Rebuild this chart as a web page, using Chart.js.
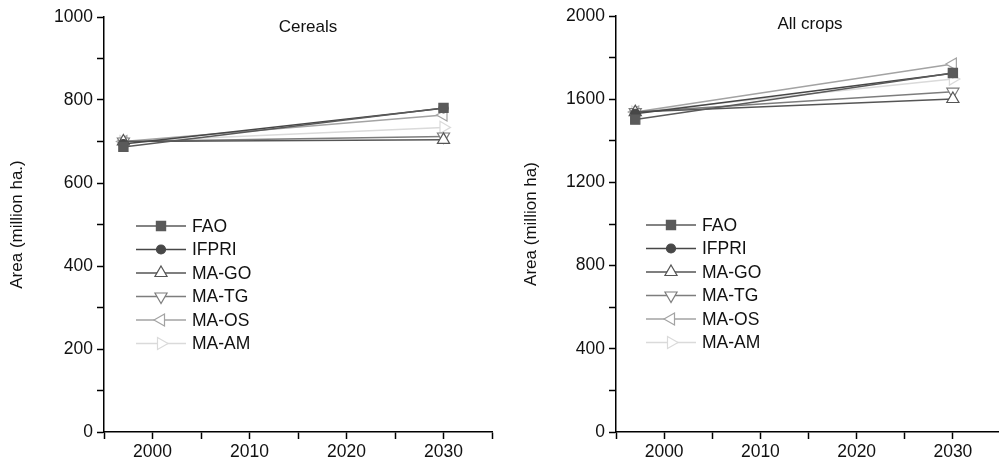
<!DOCTYPE html>
<html>
<head>
<meta charset="utf-8">
<script src="https://cdn.jsdelivr.net/npm/chart.js@4.4.1/dist/chart.umd.min.js"></script>
<style>
  html, body { margin: 0; padding: 0; background: #fff; width: 999px; height: 472px; overflow: hidden; }
  #left { position: absolute; left: 0; top: 0; }
  #right { position: absolute; left: 500px; top: 0; }
</style>
</head>
<body>
<canvas id="left" width="510" height="472"></canvas>
<canvas id="right" width="520" height="472"></canvas>
<script>
// data
const years = [1997, 2030];
const seriesNames = ['FAO', 'IFPRI', 'MA-GO', 'MA-TG', 'MA-OS', 'MA-AM'];

const cerealsFAO = [687, 781];
const cerealsIFPRI = [694, 780];
const cerealsGO = [700, 704];
const cerealsTG = [700, 712];
const cerealsOS = [700, 764];
const cerealsAM = [700, 734];

const allFAO = [1502, 1726];
const allIFPRI = [1530, 1725];
const allGO = [1538, 1601];
const allTG = [1538, 1636];
const allOS = [1538, 1769];
const allAM = [1538, 1697];

// styles per series
const lineColors = ['#5a5a5a', '#474747', '#555555', '#7d7d7d', '#a3a3a3', '#dadada'];
const fillColors = ['#5a5a5a', '#474747', '#ffffff', '#ffffff', '#ffffff', '#ffffff'];
const markers = ['rect', 'circle', 'triangle', 'triangle', 'triangle', 'triangle'];
const markerRotation = [0, 0, 0, 180, 270, 90];
const markerRadius = [6.5, 4.5, 7, 7, 7, 7];

const FONT = 'Arial, "Liberation Sans", sans-serif';
const TXT = 17.5;

function makeDatasets(seriesValues) {
    return seriesValues.map((vals, i) => ({
        label: seriesNames[i],
        data: years.map((yr, j) => ({ x: yr, y: vals[j] })),
        borderColor: lineColors[i],
        borderWidth: 1.5,
        pointStyle: markers[i],
        pointRotation: markerRotation[i],
        pointRadius: markerRadius[i],
        pointBackgroundColor: fillColors[i],
        pointBorderColor: lineColors[i],
        pointBorderWidth: 1.2,
        tension: 0
    }));
}

// title + legend drawn inside the plot area
const innerLabels = {
    id: 'innerLabels',
    afterDraw(chart, args, opts) {
        const ctx = chart.ctx;
        ctx.save();
        ctx.fillStyle = '#111';
        ctx.font = '17px ' + FONT;
        ctx.textAlign = 'center';
        ctx.textBaseline = 'middle';
        ctx.fillText(opts.title, opts.titleX, opts.titleY);

        ctx.font = TXT + 'px ' + FONT;
        ctx.textAlign = 'left';
        chart.data.datasets.forEach((ds, i) => {
            const y = opts.legendY + i * opts.legendGap;
            ctx.strokeStyle = ds.borderColor;
            ctx.lineWidth = 1.5;
            ctx.beginPath();
            ctx.moveTo(opts.legendX, y);
            ctx.lineTo(opts.legendX + 50, y);
            ctx.stroke();
            ctx.fillStyle = ds.pointBackgroundColor;
            ctx.strokeStyle = ds.pointBorderColor;
            ctx.lineWidth = 1.2;
            Chart.helpers.drawPoint(ctx, {
                pointStyle: ds.pointStyle,
                rotation: ds.pointRotation,
                radius: ds.pointRadius,
                borderWidth: 1.2
            }, opts.legendX + 25, y);
            ctx.fillStyle = '#111';
            ctx.fillText(ds.label, opts.legendX + 56, y + 1);
        });
        ctx.restore();
    }
};

function makeChart(id, seriesValues, cfg) {
    return new Chart(document.getElementById(id), {
        type: 'line',
        data: { datasets: makeDatasets(seriesValues) },
        plugins: [innerLabels],
        options: {
            responsive: false,
            animation: false,
            layout: { padding: { top: cfg.padTop, right: cfg.padRight, left: 0, bottom: 0 } },
            plugins: {
                legend: { display: false },
                tooltip: { enabled: false },
                innerLabels: cfg.labels
            },
            scales: {
                x: {
                    type: 'linear',
                    min: 1995,
                    max: 2035,
                    afterFit(scale) { scale.height = 40; },
                    border: { color: '#000', width: 1.5 },
                    grid: { drawOnChartArea: false, tickLength: 7, tickColor: '#000', tickWidth: 1.5 },
                    ticks: {
                        stepSize: 5,
                        autoSkip: false,
                        maxRotation: 0,
                        padding: 3,
                        color: '#111',
                        font: { family: FONT, size: TXT },
                        callback: v => (v % 10 === 0 ? String(v) : '')
                    }
                },
                y: {
                    min: 0,
                    max: cfg.yMax,
                    afterFit(scale) { scale.width = cfg.yWidth; },
                    border: { color: '#000', width: 1.5 },
                    grid: { drawOnChartArea: false, tickLength: 7, tickColor: '#000', tickWidth: 1.5 },
                    ticks: {
                        stepSize: cfg.yStep,
                        autoSkip: false,
                        padding: 4,
                        color: '#111',
                        font: { family: FONT, size: TXT },
                        callback: v => (v % (cfg.yStep * 2) === 0 ? String(v) : '')
                    },
                    title: {
                        display: true,
                        text: cfg.yTitle,
                        color: '#111',
                        font: { family: FONT, size: 17 },
                        padding: { top: cfg.titlePad, bottom: 0 }
                    }
                }
            }
        }
    });
}

makeChart('left',
    [cerealsFAO, cerealsIFPRI, cerealsGO, cerealsTG, cerealsOS, cerealsAM],
    {
        yMax: 1000, yStep: 100, yWidth: 104, padTop: 17, padRight: 18,
        yTitle: 'Area (million ha.)', titlePad: 7,
        labels: { title: 'Cereals', titleX: 308, titleY: 27, legendX: 136, legendY: 226, legendGap: 23.5 }
    });

makeChart('right',
    [allFAO, allIFPRI, allGO, allTG, allOS, allAM],
    {
        yMax: 2000, yStep: 200, yWidth: 116, padTop: 16, padRight: 19,
        yTitle: 'Area (million ha)', titlePad: 21,
        labels: { title: 'All crops', titleX: 310, titleY: 24, legendX: 146, legendY: 225, legendGap: 23.5 }
    });
</script>
</body>
</html>
